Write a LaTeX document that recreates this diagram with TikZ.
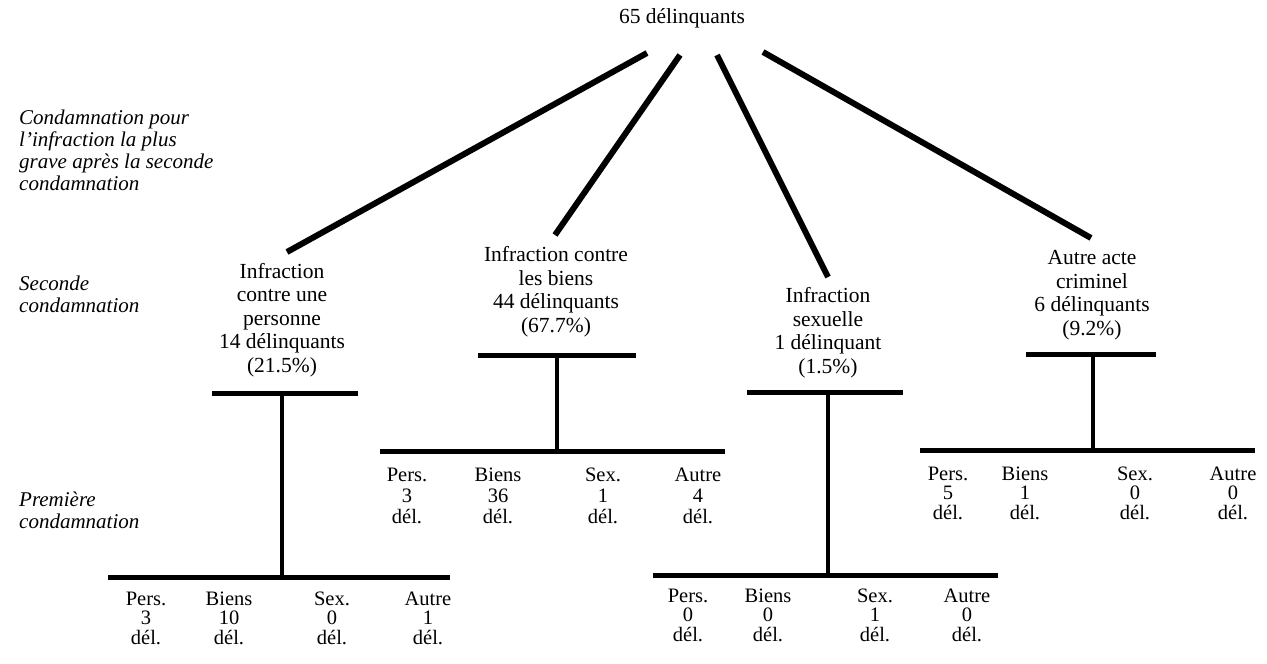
\documentclass[tikz,border=0pt]{standalone}
\usepackage{fontspec}
\setmainfont{Liberation Serif}
\begin{document}
\begin{tikzpicture}[x=1pt,y=-1pt,
  diag/.style={line width=6pt},
  bar/.style={line width=5pt},
  stem/.style={line width=4.5pt},
  hdr/.style={align=center,anchor=base,inner sep=0pt,font=\fontsize{21.5}{23.5}\selectfont},
  side/.style={align=left,anchor=base west,inner sep=0pt,font=\fontsize{21}{22}\selectfont\itshape},
  cnt/.style={align=center,anchor=base,inner sep=0pt,font=\fontsize{20.5}{#1}\selectfont},
  cnt/.default=19.5]
\useasboundingbox (0,0) rectangle (1267,664);

% root (anchor base = baseline of the last line of a node)
\node[hdr] (root) at (682,23) {65 délinquants};

% side labels
\node[side] (s1) at (19,190) {Condamnation pour\\l'infraction la plus\\grave après la seconde\\condamnation};
\node[side] (s2) at (19,312) {Seconde\\condamnation};
\node[side] (s3) at (19,528) {Première\\condamnation};

% second-conviction headers
\node[hdr] (h1) at (282,372) {Infraction\\contre une\\personne\\14 délinquants\\(21.5\%)};
\node[hdr] (h2) at (556,332) {Infraction contre\\les biens\\44 délinquants\\(67.7\%)};
\node[hdr] (h3) at (828,373) {Infraction\\sexuelle\\1 délinquant\\(1.5\%)};
\node[hdr] (h4) at (1092,335) {Autre acte\\criminel\\6 délinquants\\(9.2\%)};

% diagonal connectors
\coordinate (r1) at (647,53);  \coordinate (e1) at (287,252);
\coordinate (r2) at (680,55);  \coordinate (e2) at (555,235);
\coordinate (r3) at (717,55);  \coordinate (e3) at (828,277);
\coordinate (r4) at (763,52);  \coordinate (e4) at (1091,238);
\draw[diag] (r1) -- (e1);
\draw[diag] (r2) -- (e2);
\draw[diag] (r3) -- (e3);
\draw[diag] (r4) -- (e4);

% group 1
\coordinate (t1l) at (212,393); \coordinate (t1r) at (358,393); \coordinate (t1m) at (282,393);
\coordinate (b1l) at (108,577); \coordinate (b1r) at (450,577); \coordinate (b1m) at (282,577);
\draw[bar] (t1l) -- (t1r); \draw[stem] (t1m) -- (b1m); \draw[bar] (b1l) -- (b1r);
\node[cnt] (g1a) at (146,644) {Pers.\\3\\dél.};
\node[cnt] (g1b) at (229,644) {Biens\\10\\dél.};
\node[cnt] (g1c) at (332,644) {Sex.\\0\\dél.};
\node[cnt] (g1d) at (428,644) {Autre\\1\\dél.};

% group 2
\coordinate (t2l) at (478,355); \coordinate (t2r) at (636,355); \coordinate (t2m) at (557,355);
\coordinate (b2l) at (380,451); \coordinate (b2r) at (725,451); \coordinate (b2m) at (557,451);
\draw[bar] (t2l) -- (t2r); \draw[stem] (t2m) -- (b2m); \draw[bar] (b2l) -- (b2r);
\node[cnt=21] (g2a) at (407,523) {Pers.\\3\\dél.};
\node[cnt=21] (g2b) at (498,523) {Biens\\36\\dél.};
\node[cnt=21] (g2c) at (603,523) {Sex.\\1\\dél.};
\node[cnt=21] (g2d) at (698,523) {Autre\\4\\dél.};

% group 3
\coordinate (t3l) at (747,392); \coordinate (t3r) at (903,392); \coordinate (t3m) at (828,392);
\coordinate (b3l) at (653,575); \coordinate (b3r) at (998,575); \coordinate (b3m) at (828,575);
\draw[bar] (t3l) -- (t3r); \draw[stem] (t3m) -- (b3m); \draw[bar] (b3l) -- (b3r);
\node[cnt] (g3a) at (688,641) {Pers.\\0\\dél.};
\node[cnt] (g3b) at (768,641) {Biens\\0\\dél.};
\node[cnt] (g3c) at (875,641) {Sex.\\1\\dél.};
\node[cnt] (g3d) at (967,641) {Autre\\0\\dél.};

% group 4
\coordinate (t4l) at (1026,354); \coordinate (t4r) at (1156,354); \coordinate (t4m) at (1093,354);
\coordinate (b4l) at (920,450); \coordinate (b4r) at (1255,450); \coordinate (b4m) at (1093,450);
\draw[bar] (t4l) -- (t4r); \draw[stem] (t4m) -- (b4m); \draw[bar] (b4l) -- (b4r);
\node[cnt] (g4a) at (948,519) {Pers.\\5\\dél.};
\node[cnt] (g4b) at (1025,519) {Biens\\1\\dél.};
\node[cnt] (g4c) at (1135,519) {Sex.\\0\\dél.};
\node[cnt] (g4d) at (1233,519) {Autre\\0\\dél.};
\end{tikzpicture}
\end{document}
